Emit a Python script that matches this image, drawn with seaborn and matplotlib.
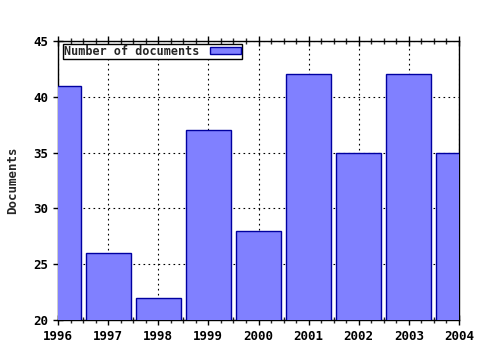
import matplotlib
matplotlib.use("Agg")
import matplotlib.pyplot as plt
from matplotlib.ticker import AutoMinorLocator, FixedLocator, MultipleLocator
import seaborn as sns
import pandas as pd

years = [1996, 1997, 1998, 1999, 2000, 2001, 2002, 2003, 2004]
documents = [41, 26, 22, 37, 28, 42, 35, 42, 35]
series_name = "Number of documents"

df = pd.DataFrame({"year": years, "docs": documents})

sns.set_style("ticks")
plt.rcParams['font.family'] = ['DejaVu Sans Mono']
plt.rcParams['font.weight'] = 'bold'

fig = plt.figure(figsize=(4.8, 3.5), dpi=100)
ax = fig.add_axes([58/480, 30/350, 401/480, 279/350])

sns.barplot(data=df, x="year", y="docs", native_scale=True, width=0.9,
            color="#8080ff", saturation=1, edgecolor="#0000a0", linewidth=1,
            label=series_name, ax=ax, zorder=3)

ax.set_xlim(1996, 2004)
ax.set_ylim(20, 45)
ax.set_xticks(years)
ax.set_xticklabels([str(y) for y in years])
ax.yaxis.set_major_locator(MultipleLocator(5))
ax.xaxis.set_minor_locator(AutoMinorLocator(4))
ax.tick_params(axis='both', labelsize=9, colors='black')
ax.tick_params(axis='x', which='major', direction='inout', length=7, width=1, top=True)
ax.tick_params(axis='x', which='minor', direction='inout', length=4, width=1, top=True)
ax.tick_params(axis='y', which='major', direction='inout', length=7, width=1)
for lab in ax.get_xticklabels() + ax.get_yticklabels():
    lab.set_fontweight('bold')

ax.grid(True, which='major', color='black', linestyle=(0, (1.5, 3)), linewidth=0.8, zorder=1)
ax.set_axisbelow(True)
for s in ax.spines.values():
    s.set_visible(True)
    s.set_color('black')
    s.set_linewidth(1)

ax.set_xlabel("")
ax.set_ylabel("Documents", fontsize=9, fontweight='bold', labelpad=10)

leg = ax.legend(loc='upper left', bbox_to_anchor=(0.01, 0.995), frameon=True, fancybox=False,
                framealpha=1, edgecolor='black', prop={'size': 8.5, 'weight': 'bold'},
                markerfirst=False, borderpad=0.1, handlelength=2.6, handleheight=0.5,
                handletextpad=0.9, borderaxespad=0.1)
leg.get_frame().set_linewidth(1)
leg.set_zorder(5)

fig.savefig("out.png", dpi=100)
